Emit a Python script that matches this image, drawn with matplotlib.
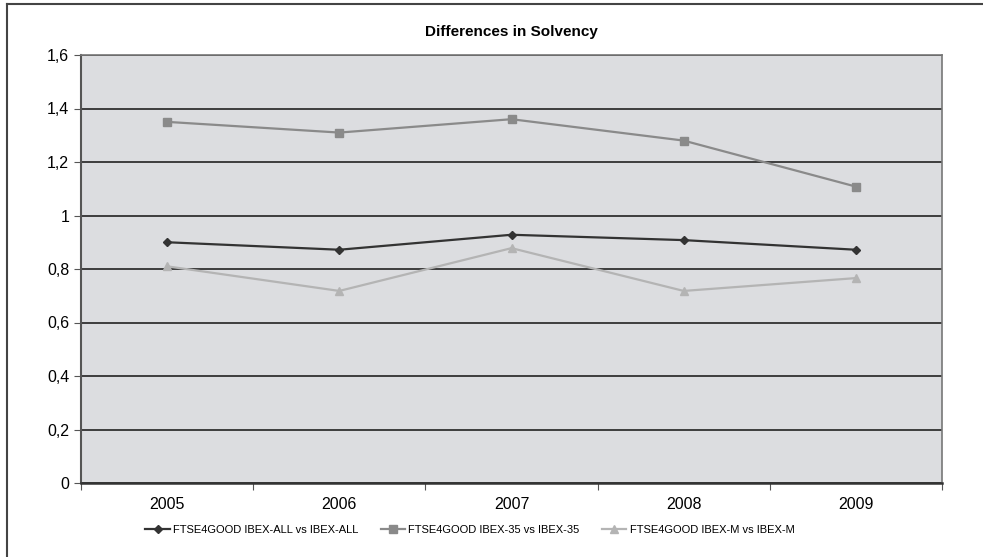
import matplotlib
matplotlib.use("Agg")
from matplotlib import pyplot as plt
from matplotlib.lines import Line2D
import numpy as np

years = ["2005", "2006", "2007", "2008", "2009"]
ibex_all = [0.90, 0.872, 0.928, 0.908, 0.872]
ibex_35 = [1.35, 1.31, 1.36, 1.28, 1.108]
ibex_m = [0.81, 0.718, 0.878, 0.718, 0.766]
yticks = [0, 0.2, 0.4, 0.6, 0.8, 1.0, 1.2, 1.4, 1.6]
ylabels = ["0", "0,2", "0,4", "0,6", "0,8", "1", "1,2", "1,4", "1,6"]

plt.rcParams["font.family"] = ["Liberation Sans", "DejaVu Sans"]

fig = plt.figure(figsize=(9.83, 5.57), dpi=100)
ax = fig.add_axes([81 / 983, 1 - 483 / 557, (942 - 81) / 983, (483 - 55) / 557])
ax.set_facecolor("#dcdde0")

x = np.arange(len(years))
ax.plot(x, ibex_all, color="#333333", marker="D", markersize=4.5, linewidth=1.6,
        label="FTSE4GOOD IBEX-ALL vs IBEX-ALL", zorder=3)
ax.plot(x, ibex_35, color="#8a8a8a", marker="s", markersize=6, linewidth=1.6,
        label="FTSE4GOOD IBEX-35 vs IBEX-35", zorder=3)
ax.plot(x, ibex_m, color="#b4b4b4", marker="^", markersize=6, linewidth=1.6,
        label="FTSE4GOOD IBEX-M vs IBEX-M", zorder=3)

ax.set_xlim(-0.5, len(years) - 0.5)
ax.set_ylim(0, 1.6)
ax.set_yticks(yticks)
ax.set_yticklabels(ylabels, fontsize=11.5)
ax.yaxis.grid(True, color="#222222", linewidth=1.2)
ax.set_axisbelow(True)

ax.set_xticks(np.arange(-0.5, len(years), 1.0))
ax.set_xticklabels([])
ax.set_xticks(x, minor=True)
ax.set_xticklabels(years, minor=True, fontsize=11.5)
ax.tick_params(axis="x", which="minor", length=0, pad=10)
ax.tick_params(axis="x", which="major", length=5, direction="out", color="#555555")
ax.tick_params(axis="y", length=5, direction="out", color="#555555")

for side in ["top", "right"]:
    ax.spines[side].set_color("#777777")
    ax.spines[side].set_linewidth(1.2)
ax.spines["left"].set_color("#555555")
ax.spines["left"].set_linewidth(1.5)
ax.spines["bottom"].set_color("#333333")
ax.spines["bottom"].set_linewidth(1.8)

ax.set_title("Differences in Solvency", fontsize=11, fontweight="bold", pad=14)

fig.legend(loc="center", bbox_to_anchor=(0.478, 1 - 530 / 557), ncol=3, frameon=False,
           fontsize=8, handlelength=2.2, columnspacing=2.0, handletextpad=0.3)

# outer frame (only top and left edges are visible)
fig.lines.append(Line2D([7 / 983, 7 / 983], [0, 1 - 4 / 557], transform=fig.transFigure,
                        color="#444444", linewidth=1.5))
fig.lines.append(Line2D([7 / 983, 1], [1 - 4 / 557, 1 - 4 / 557], transform=fig.transFigure,
                        color="#444444", linewidth=1.5))

fig.savefig("out.png", dpi=100)
